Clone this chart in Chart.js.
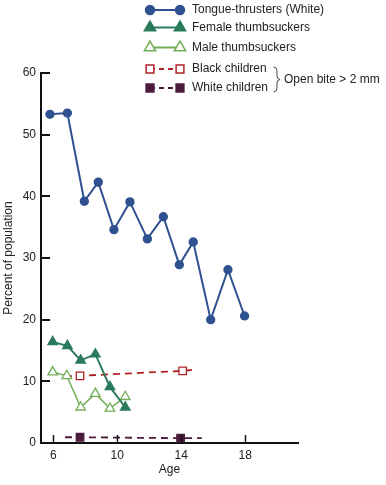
<!DOCTYPE html>
<html>
<head>
<meta charset="utf-8">
<script src="https://cdn.jsdelivr.net/npm/chart.js@4/dist/chart.umd.min.js"></script>
<style>
  body { margin: 0; background: #fff; }
  #wrap { width: 386px; height: 485px; }
</style>
</head>
<body>
<div id="wrap"><canvas id="chart" width="386" height="485"></canvas></div>
<script>
// Values
const tongueAges = [5.79, 6.88, 7.94, 8.81, 9.79, 10.79, 11.88, 12.88, 13.88, 14.75, 15.84, 16.92, 17.96];
const tongueValues = [53.3, 53.5, 39.2, 42.3, 34.6, 39.1, 33.1, 36.7, 28.9, 32.6, 20.0, 28.1, 20.6];

const femaleAges = [5.96, 6.88, 7.71, 8.63, 9.54, 10.5];
const femaleValues = [16.4, 15.75, 13.4, 14.4, 9.1, 5.8];

const maleAges = [5.96, 6.84, 7.71, 8.63, 9.54, 10.5];
const maleValues = [11.5, 10.9, 5.8, 8.0, 5.6, 7.5];

// dashed lines run past the markers at both ends
const blackAges = [6.73, 7.67, 14.09, 14.9];
const blackValues = [10.8, 10.9, 11.7, 11.9];
const blackMarks = [false, true, true, false];

const whiteAges = [6.73, 7.67, 13.96, 15.28];
const whiteValues = [0.93, 0.93, 0.78, 0.78];
const whiteMarks = [false, true, true, false];

const xTicks = [6, 10, 14, 18];
const yTicks = [0, 10, 20, 30, 40, 50, 60];

const legendLabels = ['Tongue-thrusters (White)', 'Female thumbsuckers', 'Male thumbsuckers', 'Black children', 'White children'];
const groupLabel = 'Open bite > 2 mm';

const FONT = '"Liberation Sans", Arial, Helvetica, sans-serif';
const TEXT = '#222';

function toPoints(ages, values) {
    return ages.map((a, i) => ({ x: a, y: values[i] }));
}

const datasets = [
    {
        label: legendLabels[0],
        data: toPoints(tongueAges, tongueValues),
        borderColor: '#2f5190',
        backgroundColor: '#2f5190',
        borderWidth: 2,
        pointStyle: 'circle',
        pointRadius: 4,
        legendRadius: 4.5,
        dash: []
    },
    {
        label: legendLabels[1],
        data: toPoints(femaleAges, femaleValues),
        borderColor: '#2b7a5c',
        backgroundColor: '#2b7a5c',
        borderWidth: 2,
        pointStyle: 'triangle',
        pointRadius: 5.5,
        legendRadius: 6.5,
        dash: []
    },
    {
        label: legendLabels[2],
        data: toPoints(maleAges, maleValues),
        borderColor: '#72ad55',
        backgroundColor: '#ffffff',
        borderWidth: 1.5,
        pointStyle: 'triangle',
        pointRadius: 5.5,
        legendRadius: 6.5,
        dash: []
    },
    {
        label: legendLabels[3],
        data: toPoints(blackAges, blackValues),
        borderColor: '#b02228',
        backgroundColor: '#ffffff',
        borderWidth: 1.8,
        pointStyle: 'rect',
        pointRadius: blackMarks.map(m => m ? 5.3 : 0),
        legendRadius: 5.5,
        borderDash: [7, 5],
        dash: [5, 4]
    },
    {
        label: legendLabels[4],
        data: toPoints(whiteAges, whiteValues),
        borderColor: '#4b1b3e',
        backgroundColor: '#4b1b3e',
        borderWidth: 1.8,
        pointStyle: 'rect',
        pointRadius: whiteMarks.map(m => m ? 5.3 : 0),
        legendRadius: 5.5,
        borderDash: [7, 5],
        dash: [5, 4]
    }
].map(ds => Object.assign(ds, {
    showLine: true,
    fill: false,
    tension: 0,
    clip: false,
    pointBorderWidth: 1.3
}));

// Inward tick marks, like the printed figure
const innerTicks = {
    id: 'innerTicks',
    afterDraw(chart) {
        const ctx = chart.ctx;
        const x = chart.scales.x;
        const y = chart.scales.y;
        const area = chart.chartArea;
        ctx.save();
        ctx.strokeStyle = '#111';
        ctx.lineWidth = 2;
        yTicks.forEach(v => {
            if (v === 0) return;
            const py = Math.round(y.getPixelForValue(v));
            ctx.beginPath();
            ctx.moveTo(area.left, py);
            ctx.lineTo(area.left + 9, py);
            ctx.stroke();
        });
        xTicks.forEach(v => {
            const px = Math.round(x.getPixelForValue(v)) + 0.5;
            ctx.lineWidth = 1.5;
            ctx.beginPath();
            ctx.moveTo(px, area.bottom);
            ctx.lineTo(px, area.bottom - 8);
            ctx.stroke();
        });
        ctx.restore();
    }
};

// Legend box in the upper right, with the brace
const sideLegend = {
    id: 'sideLegend',
    afterDraw(chart) {
        const ctx = chart.ctx;
        const rows = [10, 27.5, 47.5, 69, 88];
        const x0 = 150, x1 = 180, tx = 192;
        ctx.save();
        chart.data.datasets.forEach((ds, i) => {
            const yy = rows[i];
            ctx.strokeStyle = ds.borderColor;
            ctx.fillStyle = ds.backgroundColor;
            ctx.lineWidth = 2;
            ctx.setLineDash(ds.dash);
            ctx.beginPath();
            ctx.moveTo(x0, yy);
            ctx.lineTo(x1, yy);
            ctx.stroke();
            ctx.setLineDash([]);
            ctx.lineWidth = 1.5;
            [x0, x1].forEach(px => {
                Chart.helpers.drawPoint(ctx, {
                    pointStyle: ds.pointStyle,
                    radius: ds.legendRadius,
                    borderWidth: 1.5,
                    rotation: 0
                }, px, yy);
            });
            ctx.fillStyle = TEXT;
            ctx.font = '12px ' + FONT;
            ctx.textBaseline = 'middle';
            ctx.textAlign = 'left';
            ctx.fillText(ds.label, tx, yy);
        });

        // brace grouping the last two rows
        ctx.strokeStyle = '#444';
        ctx.lineWidth = 1;
        ctx.beginPath();
        ctx.moveTo(273.5, 67);
        ctx.quadraticCurveTo(277, 67, 277, 71);
        ctx.lineTo(277, 76);
        ctx.quadraticCurveTo(277, 79, 280, 79.5);
        ctx.quadraticCurveTo(277, 80, 277, 83);
        ctx.lineTo(277, 88);
        ctx.quadraticCurveTo(277, 92, 273.5, 92);
        ctx.stroke();
        ctx.fillStyle = TEXT;
        ctx.font = '12px ' + FONT;
        ctx.textBaseline = 'middle';
        ctx.fillText(groupLabel, 284, 79.5);
        ctx.restore();
    }
};

new Chart(document.getElementById('chart'), {
    type: 'scatter',
    data: { datasets: datasets },
    options: {
        responsive: false,
        animation: false,
        events: [],
        layout: { padding: { top: 73, right: 88, left: 0, bottom: 0 } },
        plugins: {
            legend: { display: false },
            tooltip: { enabled: false }
        },
        scales: {
            x: {
                type: 'linear',
                min: 5.23,
                max: 21.3,
                afterFit: s => { s.height = 42; },
                afterBuildTicks: s => { s.ticks = xTicks.map(v => ({ value: v })); },
                grid: { display: false, drawTicks: false },
                border: { display: true, color: '#111', width: 2 },
                ticks: {
                    padding: 5,
                    color: TEXT,
                    font: { family: FONT, size: 12 },
                    maxRotation: 0
                },
                title: {
                    display: true,
                    text: 'Age',
                    color: TEXT,
                    font: { family: FONT, size: 12 },
                    padding: { top: 0, bottom: 8 }
                }
            },
            y: {
                type: 'linear',
                min: 0,
                max: 60,
                afterFit: s => { s.width = 41; },
                afterBuildTicks: s => { s.ticks = yTicks.map(v => ({ value: v })); },
                grid: { display: false, drawTicks: false },
                border: { display: true, color: '#111', width: 2 },
                ticks: {
                    padding: 5,
                    color: TEXT,
                    font: { family: FONT, size: 12 }
                },
                title: {
                    display: true,
                    text: 'Percent of population',
                    color: TEXT,
                    font: { family: FONT, size: 12 },
                    padding: { top: 1, bottom: 0 }
                }
            }
        }
    },
    plugins: [innerTicks, sideLegend]
});
</script>
</body>
</html>
